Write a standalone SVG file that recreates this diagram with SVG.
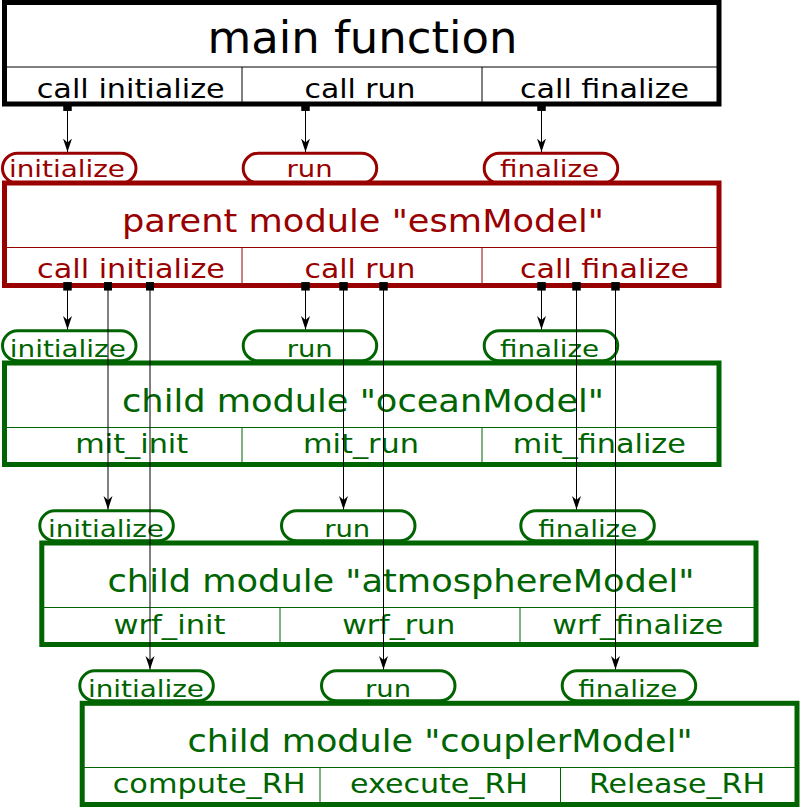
<svg xmlns="http://www.w3.org/2000/svg" width="800" height="808" viewBox="0 0 800 808">
<defs>
<style>
text{font-family:"DejaVu Sans","Liberation Sans",sans-serif;text-anchor:middle}
.box{fill:#fff;stroke-width:5}
.div{fill:none;stroke-width:1}
.pill{fill:#fff;stroke-width:3}
.title{font-size:32px}
.mtitle{font-size:45px}
.row{font-size:27px}
.pt{font-size:23.5px}
.k .box,.k .div{stroke:#000}
.k text{fill:#000}
.r .box,.r .div,.r.pill-g rect{stroke:#990000}
.r text{fill:#990000}
.g .box,.g .div{stroke:#006400}
.g text{fill:#006400}
.pr rect{stroke:#990000}
.pr text{fill:#990000}
.pg rect{stroke:#006400}
.pg text{fill:#006400}
.con line{stroke:#000;stroke-width:1;fill:none;marker-start:url(#sq);marker-end:url(#arr)}
</style>
<marker id="arr" viewBox="0 0 14 10" markerWidth="14" markerHeight="10" refX="13.5" refY="5" orient="auto" markerUnits="userSpaceOnUse">
<path d="M13.5,5 L0,0.5 L4,5 L0,9.5 Z" fill="#000"/>
</marker>
<marker id="sq" viewBox="0 0 8.5 8.5" markerWidth="8.5" markerHeight="8.5" refX="4.25" refY="4.25" orient="auto" markerUnits="userSpaceOnUse">
<rect x="0" y="0" width="8.5" height="8.5" fill="#000"/>
</marker>
</defs>
<rect width="800" height="808" fill="#fff"/>

<!-- pills: parent module entry points -->
<g id="pill-parent-init" class="pr"><rect class="pill" x="2.5" y="153.2" width="133.5" height="30" rx="15"/><text class="pt" x="67" y="177.3" textLength="116" lengthAdjust="spacingAndGlyphs">initialize</text></g>
<g id="pill-parent-run" class="pr"><rect class="pill" x="243.2" y="153.2" width="133.5" height="30" rx="15"/><text class="pt" x="309.5" y="177.3" textLength="46" lengthAdjust="spacingAndGlyphs">run</text></g>
<g id="pill-parent-final" class="pr"><rect class="pill" x="484.2" y="153.2" width="133.5" height="30" rx="15"/><text class="pt" x="549.5" y="177.3" textLength="99" lengthAdjust="spacingAndGlyphs">finalize</text></g>

<g id="pill-ocean-init" class="pg"><rect class="pill" x="2.5" y="330.8" width="133.5" height="30" rx="15"/><text class="pt" x="67.8" y="356.7" textLength="116" lengthAdjust="spacingAndGlyphs">initialize</text></g>
<g id="pill-ocean-run" class="pg"><rect class="pill" x="243.2" y="330.8" width="133.5" height="30" rx="15"/><text class="pt" x="309.7" y="356.7" textLength="46" lengthAdjust="spacingAndGlyphs">run</text></g>
<g id="pill-ocean-final" class="pg"><rect class="pill" x="484.2" y="330.8" width="133.5" height="30" rx="15"/><text class="pt" x="549.5" y="356.7" textLength="99" lengthAdjust="spacingAndGlyphs">finalize</text></g>

<g id="pill-atm-init" class="pg"><rect class="pill" x="39.8" y="510.8" width="133.5" height="30" rx="15"/><text class="pt" x="106" y="536.7" textLength="116" lengthAdjust="spacingAndGlyphs">initialize</text></g>
<g id="pill-atm-run" class="pg"><rect class="pill" x="281.5" y="510.8" width="133.5" height="30" rx="15"/><text class="pt" x="347.2" y="536.7" textLength="46" lengthAdjust="spacingAndGlyphs">run</text></g>
<g id="pill-atm-final" class="pg"><rect class="pill" x="520.8" y="510.8" width="133.5" height="30" rx="15"/><text class="pt" x="587.7" y="536.7" textLength="99" lengthAdjust="spacingAndGlyphs">finalize</text></g>

<g id="pill-cpl-init" class="pg"><rect class="pill" x="79.8" y="670.8" width="133.5" height="30" rx="15"/><text class="pt" x="146" y="696.7" textLength="116" lengthAdjust="spacingAndGlyphs">initialize</text></g>
<g id="pill-cpl-run" class="pg"><rect class="pill" x="321.5" y="670.8" width="133.5" height="30" rx="15"/><text class="pt" x="388" y="696.7" textLength="46" lengthAdjust="spacingAndGlyphs">run</text></g>
<g id="pill-cpl-final" class="pg"><rect class="pill" x="562.2" y="670.8" width="133.5" height="30" rx="15"/><text class="pt" x="627.7" y="696.7" textLength="99" lengthAdjust="spacingAndGlyphs">finalize</text></g>

<!-- main function -->
<g id="main" class="k">
<rect class="box" x="4.5" y="2.5" width="714.5" height="101.5"/>
<path class="div" d="M4.5,67 H719 M242,67 V104 M482,67 V104"/>
<text class="mtitle" x="362.5" y="53" textLength="310" lengthAdjust="spacingAndGlyphs">main function</text>
<text class="row" x="130.7" y="98" textLength="188" lengthAdjust="spacingAndGlyphs">call initialize</text>
<text class="row" x="360" y="98" textLength="111" lengthAdjust="spacingAndGlyphs">call run</text>
<text class="row" x="604.5" y="98" textLength="169" lengthAdjust="spacingAndGlyphs">call finalize</text>
</g>

<!-- parent module -->
<g id="parent" class="r">
<rect class="box" x="4.5" y="183" width="714.5" height="102.5"/>
<path class="div" d="M4.5,247.5 H719 M242,247.5 V285.5 M482,247.5 V285.5"/>
<text class="title" x="363" y="232.3" textLength="482" lengthAdjust="spacingAndGlyphs">parent module "esmModel"</text>
<text class="row" x="131" y="277.5" textLength="188" lengthAdjust="spacingAndGlyphs">call initialize</text>
<text class="row" x="360" y="277.5" textLength="111" lengthAdjust="spacingAndGlyphs">call run</text>
<text class="row" x="604.5" y="277.5" textLength="169" lengthAdjust="spacingAndGlyphs">call finalize</text>
</g>

<!-- ocean -->
<g id="ocean" class="g">
<rect class="box" x="4.5" y="363" width="714.5" height="101.5"/>
<path class="div" d="M4.5,427.5 H719 M242,427.5 V464.5 M482,427.5 V464.5"/>
<text class="title" x="363" y="412" textLength="482" lengthAdjust="spacingAndGlyphs">child module "oceanModel"</text>
<text class="row" x="131.7" y="453" textLength="113" lengthAdjust="spacingAndGlyphs">mit_init</text>
<text class="row" x="361" y="453" textLength="116" lengthAdjust="spacingAndGlyphs">mit_run</text>
<text class="row" x="599.3" y="453" textLength="173" lengthAdjust="spacingAndGlyphs">mit_finalize</text>
</g>

<!-- atmosphere -->
<g id="atmosphere" class="g">
<rect class="box" x="41.8" y="543" width="714.2" height="101.5"/>
<path class="div" d="M41.8,607.5 H756 M280,607.5 V644.5 M520,607.5 V644.5"/>
<text class="title" x="401" y="592" textLength="587" lengthAdjust="spacingAndGlyphs">child module "atmosphereModel"</text>
<text class="row" x="169.5" y="634.3" textLength="112" lengthAdjust="spacingAndGlyphs">wrf_init</text>
<text class="row" x="398.7" y="634.3" textLength="113" lengthAdjust="spacingAndGlyphs">wrf_run</text>
<text class="row" x="637.8" y="634.3" textLength="171" lengthAdjust="spacingAndGlyphs">wrf_finalize</text>
</g>

<!-- coupler -->
<g id="coupler" class="g">
<rect class="box" x="82.2" y="703.3" width="714.8" height="101.2"/>
<path class="div" d="M82.2,767.5 H797 M320,767.5 V804.5 M560.5,767.5 V804.5"/>
<text class="title" x="440" y="751.7" textLength="505" lengthAdjust="spacingAndGlyphs">child module "couplerModel"</text>
<text class="row" x="209.2" y="793.3" textLength="193" lengthAdjust="spacingAndGlyphs">compute_RH</text>
<text class="row" x="439" y="793.3" textLength="178" lengthAdjust="spacingAndGlyphs">execute_RH</text>
<text class="row" x="677" y="793.3" textLength="176" lengthAdjust="spacingAndGlyphs">Release_RH</text>
</g>

<!-- connectors -->
<g id="connectors" class="con">
<line x1="67.5" y1="106.7" x2="67.5" y2="152"/>
<line x1="305.5" y1="106.7" x2="305.5" y2="152"/>
<line x1="541.5" y1="106.7" x2="541.5" y2="152"/>
<line x1="67.5" y1="286.3" x2="67.5" y2="329.5"/>
<line x1="108" y1="286.3" x2="108" y2="509.5"/>
<line x1="150" y1="286.3" x2="150" y2="669.5"/>
<line x1="305.5" y1="286.3" x2="305.5" y2="329.5"/>
<line x1="343.5" y1="286.3" x2="343.5" y2="509.5"/>
<line x1="383.5" y1="286.3" x2="383.5" y2="669.5"/>
<line x1="541.5" y1="286.3" x2="541.5" y2="329.5"/>
<line x1="576.5" y1="286.3" x2="576.5" y2="509.5"/>
<line x1="615.5" y1="286.3" x2="615.5" y2="669.5"/>
</g>
</svg>
